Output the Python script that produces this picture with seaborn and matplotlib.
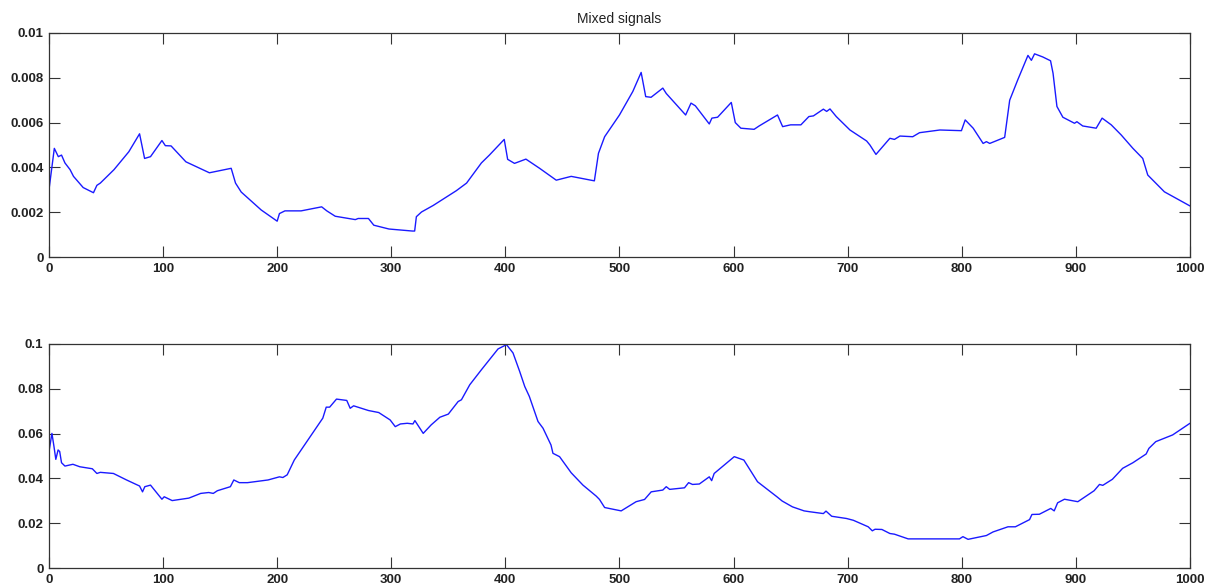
import numpy as np
import pandas as pd
import matplotlib
matplotlib.use("Agg")
import matplotlib.pyplot as plt
import seaborn as sns

# ---- data: signal 1 (top) ----
x1 = [0, 4.7, 8.2, 11, 14, 18.5, 21.5, 30, 39, 42, 45, 57, 70, 79.4, 83.8, 89, 99, 102, 107,
      120, 140.6, 159.7, 163.5, 168.5, 186, 200, 202, 206.8, 221, 239, 243.5, 250.9, 262.6,
      268.5, 271, 280, 284.7, 298, 318.5, 320.5, 322, 326.5, 336.7, 357, 366, 379, 386, 399,
      402, 408, 418, 430, 444.6, 457.7, 478, 481.6, 487, 500, 511.7, 519, 523, 527.7, 538,
      541, 558, 562.7, 566.5, 578.7, 581, 586, 598, 601.5, 606.4, 618, 622.4, 638.5, 643,
      650, 659, 666, 670, 678.7, 681.6, 684.5, 690, 702, 716.6, 719.5, 724.8, 737, 741,
      745.8, 757, 763, 780.8, 799.7, 803, 810, 818.7, 821.6, 824.5, 837.6, 842, 849, 858,
      861, 863.8, 871, 877.8, 880, 883.4, 888.6, 898.8, 900.9, 906, 917.8, 923, 931, 939.7,
      950, 958.6, 963, 977.6, 1000]
y1 = [0.0030, 0.00485, 0.00448, 0.00455, 0.0042, 0.0039, 0.0036, 0.0031, 0.00287, 0.0032,
      0.0033, 0.0039, 0.0047, 0.0055, 0.0044, 0.00448, 0.0052, 0.00497, 0.00496, 0.00425,
      0.00376, 0.00396, 0.0033, 0.0029, 0.0021, 0.0016, 0.00194, 0.00206, 0.00206, 0.00224,
      0.00206, 0.00182, 0.00172, 0.00167, 0.00172, 0.00172, 0.00142, 0.00125, 0.00116,
      0.00116, 0.0018, 0.00201, 0.0023, 0.00296, 0.0033, 0.0042, 0.00455, 0.00525, 0.00436,
      0.00418, 0.00437, 0.00396, 0.00343, 0.0036, 0.0034, 0.00463, 0.00537, 0.00634,
      0.00739, 0.00824, 0.00716, 0.00713, 0.00754, 0.0073, 0.00634, 0.00687, 0.00675,
      0.00594, 0.0062, 0.00624, 0.0069, 0.0060, 0.00575, 0.0057, 0.00585, 0.00634, 0.00582,
      0.0059, 0.0059, 0.00627, 0.0063, 0.0066, 0.0065, 0.00661, 0.00627, 0.00567, 0.00518,
      0.0050, 0.00458, 0.0053, 0.00525, 0.0054, 0.00537, 0.00555, 0.00567, 0.00564,
      0.00612, 0.00575, 0.00507, 0.00515, 0.00507, 0.00534, 0.0070, 0.0079, 0.0090,
      0.00878, 0.00907, 0.00893, 0.00876, 0.0082, 0.00672, 0.00624, 0.00597, 0.00604,
      0.00585, 0.00575, 0.0062, 0.0059, 0.00545, 0.00485, 0.0044, 0.00366, 0.00291, 0.00228]

# ---- data: signal 2 (bottom) ----
x2 = [0, 2.6, 4.4, 6, 8, 9.4, 11, 14, 21, 27, 38, 42, 45, 56.5, 68, 79.4, 82, 84, 89, 99,
      101, 108, 122.6, 133, 140, 144, 147.6, 159, 162, 166.8, 174, 192, 202, 205, 208.8,
      215, 227, 240, 243, 246, 252, 261, 264, 267, 280, 289, 299, 303.5, 308, 314, 319,
      320.7, 328, 335, 342.6, 350, 358.6, 361.5, 368.8, 379, 393.6, 401, 406.7, 412.5, 417,
      421, 428.6, 433, 440, 441.7, 447.5, 457.7, 468, 479.6, 482.5, 487, 501.5, 514.6, 522,
      527.8, 538, 541, 544, 557, 560.6, 564, 570, 578.7, 580.8, 583, 600.6, 609, 621, 638,
      642.6, 651.6, 661.8, 667, 678.7, 681, 686, 699, 705, 718, 721.6, 724, 730, 737, 741,
      753, 798, 801, 805.5, 821.6, 827.4, 840.5, 847, 859.4, 861.5, 868, 878, 881, 884,
      890, 901.7, 916, 920.7, 923.6, 932, 941, 950, 961.6, 964, 970, 984.8, 1000]
y2 = [0.0519, 0.0601, 0.0542, 0.0485, 0.0527, 0.052, 0.047, 0.0455, 0.0463, 0.0452, 0.0443,
      0.0422, 0.0427, 0.0422, 0.0393, 0.0366, 0.034, 0.0363, 0.037, 0.0307, 0.0318, 0.0301,
      0.0312, 0.0333, 0.0337, 0.0333, 0.0345, 0.0363, 0.0393, 0.0381, 0.0381, 0.0393,
      0.0407, 0.0404, 0.0416, 0.0482, 0.0572, 0.0669, 0.0718, 0.0718, 0.0754, 0.0748,
      0.0713, 0.0724, 0.0703, 0.0694, 0.0661, 0.0631, 0.0643, 0.0646, 0.0643, 0.0658,
      0.0601, 0.0639, 0.0673, 0.0687, 0.0743, 0.0751, 0.0818, 0.0885, 0.0978, 0.0997,
      0.096, 0.0878, 0.081, 0.0766, 0.0654, 0.0624, 0.0549, 0.0512, 0.0497, 0.0425, 0.037,
      0.0321, 0.0306, 0.027, 0.0255, 0.0296, 0.0306, 0.034, 0.0348, 0.0363, 0.0351, 0.0358,
      0.0381, 0.0373, 0.0375, 0.0407, 0.039, 0.0422, 0.0497, 0.0482, 0.0385, 0.0318,
      0.0299, 0.0273, 0.0255, 0.0251, 0.0243, 0.0254, 0.0231, 0.0221, 0.0213, 0.0184,
      0.0166, 0.0173, 0.0172, 0.0154, 0.0151, 0.013, 0.013, 0.014, 0.0128, 0.0145, 0.0161,
      0.0184, 0.0184, 0.0216, 0.0239, 0.024, 0.0266, 0.0255, 0.0291, 0.0307, 0.0296,
      0.0345, 0.0373, 0.0369, 0.0396, 0.0445, 0.047, 0.0509, 0.0534, 0.0564, 0.0594, 0.0646]

x_ticks = [0, 100, 200, 300, 400, 500, 600, 700, 800, 900, 1000]
y1_ticks = [0, 0.002, 0.004, 0.006, 0.008, 0.01]
y1_labels = ["0", "0.002", "0.004", "0.006", "0.008", "0.01"]
y2_ticks = [0, 0.02, 0.04, 0.06, 0.08, 0.1]
y2_labels = ["0", "0.02", "0.04", "0.06", "0.08", "0.1"]
title = "Mixed signals"

sns.set_style("white")
plt.rcParams["font.family"] = ["Liberation Sans", "DejaVu Sans"]

fig = plt.figure(figsize=(12.15, 5.86), dpi=100)
ax1 = fig.add_axes([0.0403, 0.5614, 0.9391, 0.3823])
ax2 = fig.add_axes([0.0403, 0.0307, 0.9391, 0.3823])

df1 = pd.DataFrame({"x": x1, "y": y1})
df2 = pd.DataFrame({"x": x2, "y": y2})
sns.lineplot(data=df1, x="x", y="y", ax=ax1, color="#1a1aff", linewidth=1.0)
sns.lineplot(data=df2, x="x", y="y", ax=ax2, color="#1a1aff", linewidth=1.0)

for ax, yt, yl, ylim in [(ax1, y1_ticks, y1_labels, 0.01), (ax2, y2_ticks, y2_labels, 0.1)]:
    ax.set_xlim(0, 1000)
    ax.set_ylim(0, ylim)
    ax.set_xticks(x_ticks)
    ax.set_xticklabels([str(t) for t in x_ticks])
    ax.set_yticks(yt)
    ax.set_yticklabels(yl)
    ax.set_xlabel("")
    ax.set_ylabel("")
    ax.tick_params(direction="in", length=8, width=0.8, color="#333333",
                   top=True, right=True, bottom=True, left=True,
                   labelsize=9.5, pad=4, labelcolor="#222222")
    for lab in ax.get_xticklabels() + ax.get_yticklabels():
        lab.set_fontweight("bold")
    for sp in ax.spines.values():
        sp.set_visible(True)
        sp.set_color("#333333")
        sp.set_linewidth(0.9)

ax1.set_title(title, fontsize=10, pad=7, color="#222222")

fig.savefig("out.png", dpi=100)
